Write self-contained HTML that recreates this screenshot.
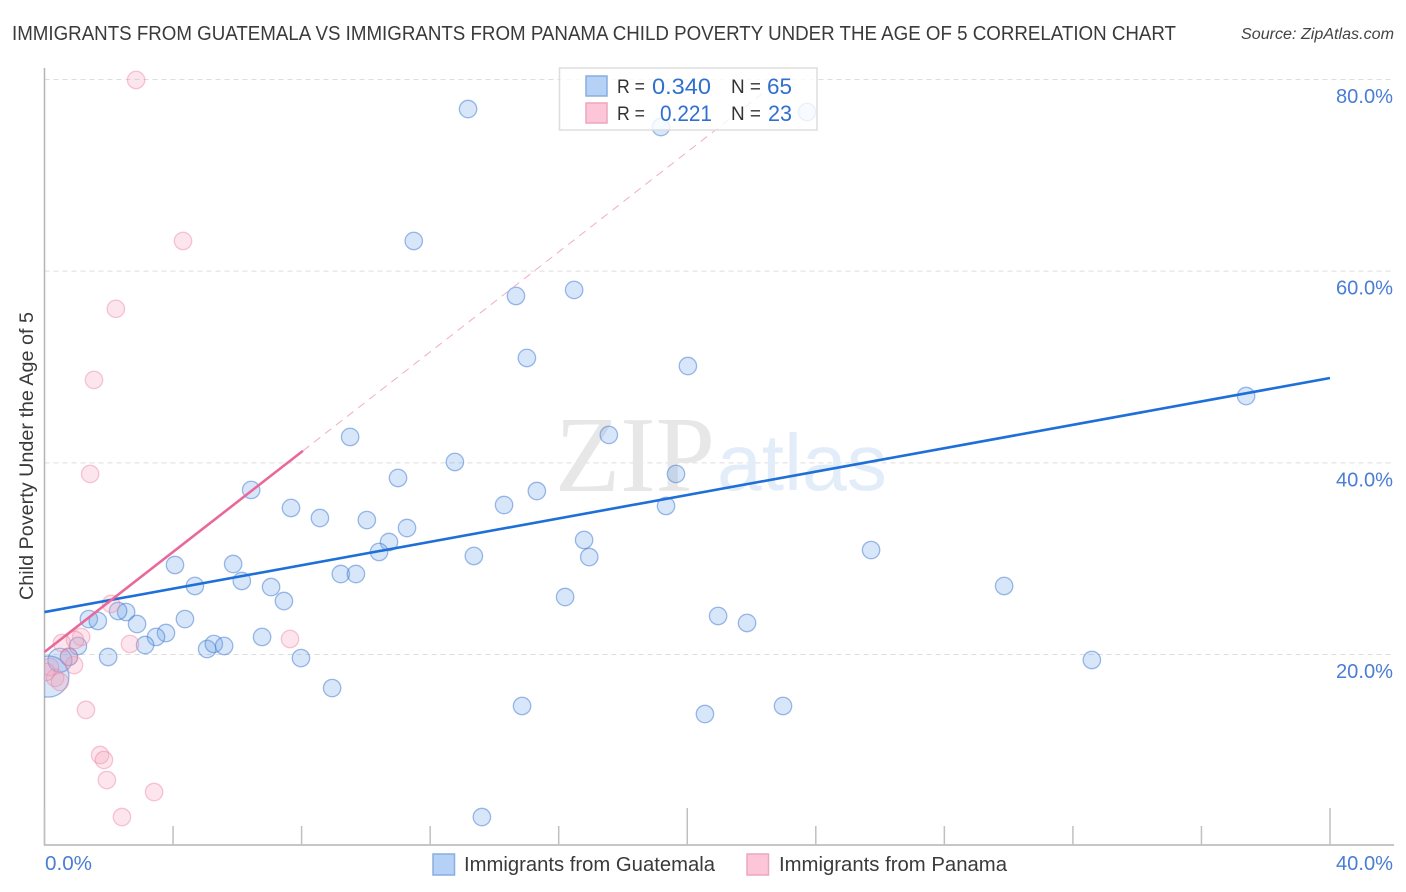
<!DOCTYPE html>
<html lang="en">
<head>
<meta charset="utf-8">
<title>Immigrants from Guatemala vs Immigrants from Panama Child Poverty Under the Age of 5 Correlation Chart</title>
<style>
html,body{margin:0;padding:0;background:#fff;width:1406px;height:892px;overflow:hidden}
svg{display:block}
text{font-family:"Liberation Sans",sans-serif}
</style>
</head>
<body>
<svg id="chart" xmlns="http://www.w3.org/2000/svg" width="1406" height="892" viewBox="0 0 1406 892">
  <rect x="0" y="0" width="1406" height="892" fill="#fff"/>
  <text x="12" y="40" font-size="20" fill="#3a3a3a" textLength="1164" lengthAdjust="spacingAndGlyphs">IMMIGRANTS FROM GUATEMALA VS IMMIGRANTS FROM PANAMA CHILD POVERTY UNDER THE AGE OF 5 CORRELATION CHART</text>
  <text x="1241" y="39" font-size="15.5" font-style="italic" fill="#444" textLength="153" lengthAdjust="spacingAndGlyphs">Source: ZipAtlas.com</text>
  <g id="grid"></g>
  <text x="555" y="491" font-size="108" fill="#e7e7e7" style="font-family:'Liberation Serif',serif" textLength="160" lengthAdjust="spacingAndGlyphs">ZIP</text>
  <text x="717" y="490" font-size="80" fill="#e3edf9" textLength="170" lengthAdjust="spacingAndGlyphs">atlas</text>
  <g id="axes"></g>
  <g id="points-guatemala"></g>
  <g id="points-panama"></g>
  <g id="trends"></g>
  <text transform="translate(33,456) rotate(-90)" text-anchor="middle" font-size="19" fill="#3a3a3a" textLength="288" lengthAdjust="spacingAndGlyphs">Child Poverty Under the Age of 5</text>
  <g id="tick-labels"></g>

  <g>
    <rect x="559.5" y="68" width="257.5" height="62" fill="#fff" fill-opacity="0.8" stroke="#ddd" stroke-width="1.5"/>
    <rect x="586" y="76" width="21" height="20" fill="#b5d2f6" stroke="#87aee0" stroke-width="1.5"/>
    <rect x="586" y="103" width="21" height="20" fill="#fcc5d8" stroke="#eda6bf" stroke-width="1.5"/>
    <text x="617" y="93" font-size="19" fill="#333" textLength="28" lengthAdjust="spacingAndGlyphs">R =</text>
    <text x="652" y="94" font-size="22" fill="#2f6fce" textLength="59" lengthAdjust="spacingAndGlyphs">0.340</text>
    <text x="731" y="93" font-size="19" fill="#333" textLength="30" lengthAdjust="spacingAndGlyphs">N =</text>
    <text x="767" y="94" font-size="22" fill="#2f6fce" textLength="25" lengthAdjust="spacingAndGlyphs">65</text>
    <text x="617" y="120" font-size="19" fill="#333" textLength="28" lengthAdjust="spacingAndGlyphs">R =</text>
    <text x="660" y="121" font-size="22" fill="#2f6fce" textLength="52" lengthAdjust="spacingAndGlyphs">0.221</text>
    <text x="731" y="120" font-size="19" fill="#333" textLength="30" lengthAdjust="spacingAndGlyphs">N =</text>
    <text x="768" y="121" font-size="22" fill="#2f6fce" textLength="24" lengthAdjust="spacingAndGlyphs">23</text>
  </g>

  <g>
    <rect x="433" y="854" width="21.5" height="21" fill="#b5d2f6" stroke="#87aee0" stroke-width="1.5"/>
    <text x="464" y="871" font-size="20" fill="#3a3a3a" textLength="251" lengthAdjust="spacingAndGlyphs">Immigrants from Guatemala</text>
    <rect x="747" y="854" width="21.5" height="21" fill="#fcc5d8" stroke="#eda6bf" stroke-width="1.5"/>
    <text x="779" y="871" font-size="20" fill="#3a3a3a" textLength="228" lengthAdjust="spacingAndGlyphs">Immigrants from Panama</text>
  </g>
</svg>
<script>
const xTickValues = [0, 4, 8, 12, 16, 20, 24, 28, 32, 36, 40];
const xMajorTicks = [0, 20, 40];
const xEdgeLabels = [0, 40];
const yTickValues = [20, 40, 60, 80];

const guatemalaX = [13.18,19.18,23.73,11.49,14.67,16.48,15.01,20.02,37.39,9.51,17.56,12.77,11.0,19.65,6.43,7.67,14.3,15.32,19.34,8.57,10.03,11.28,10.72,10.41,16.79,16.95,13.36,25.72,4.06,5.87,6.14,4.68,7.05,9.22,9.69,29.86,16.2,7.45,20.96,21.86,4.37,2.54,2.29,1.38,1.66,2.88,3.78,3.47,3.13,5.06,5.27,5.59,6.77,1.04,1.98,7.98,32.59,8.95,14.86,20.55,22.98,13.61,0.76,0.48,0.12];
const guatemalaY = [76.92,75.04,76.61,63.15,57.41,58.04,50.94,50.1,46.97,42.7,42.91,40.09,38.42,38.84,37.17,35.29,35.6,37.06,35.5,34.24,34.03,33.2,31.74,30.7,31.95,30.17,30.28,30.9,29.34,29.44,27.67,27.15,27.04,28.4,28.4,27.15,26.0,25.58,24.02,23.29,23.7,24.43,24.54,23.7,23.5,23.18,22.24,21.83,20.99,20.57,21.1,20.89,21.83,20.89,19.74,19.63,19.43,16.5,14.63,13.79,14.63,3.04,19.75,19.4,17.7];
const guatemalaWeight = [1,1,1,1,1,1,1,1,1,1,1,1,1,1,1,1,1,1,1,1,1,1,1,1,1,1,1,1,1,1,1,1,1,1,1,1,1,1,1,1,1,1,1,1,1,1,1,1,1,1,1,1,1,1,1,1,1,1,1,1,1,1,1,1.9,5.6];

const panamaX = [2.85,4.31,2.22,1.54,1.42,2.07,1.14,0.95,0.54,2.66,7.64,0.92,1.29,1.73,1.85,1.94,3.41,2.41,0.33,0.48,0.17,0.05,0.76];
const panamaY = [79.95,63.15,56.07,48.65,38.84,25.28,21.83,21.51,21.2,21.1,21.62,18.9,14.22,9.51,9.0,6.9,5.65,3.04,17.56,17.14,18.7,18.18,19.75];

const guatemalaTrendX = [0, 40];
const guatemalaTrendY = [24.43, 48.85];
const panamaTrendX = [0, 8.04];
const panamaTrendY = [20.26, 41.25];
const panamaProjectionX = [8.04, 22.9];
const panamaProjectionY = [41.25, 80];

const NS = 'http://www.w3.org/2000/svg';
function xScale(v) { return 44.5 + v / 40 * 1285.5; }
function yScale(v) { return 654.5 - (v - 20) * 9.5835; }
function make(tag, attrs, parent) {
  const el = document.createElementNS(NS, tag);
  for (const k in attrs) el.setAttribute(k, attrs[k]);
  parent.appendChild(el);
  return el;
}
const gridG = document.getElementById('grid');
const axesG = document.getElementById('axes');
const labelG = document.getElementById('tick-labels');
const gPts = document.getElementById('points-guatemala');
const pPts = document.getElementById('points-panama');
const trendG = document.getElementById('trends');

yTickValues.forEach(function (v) {
  const line = make('line', {x1: 44.5, x2: 1394, y1: yScale(v), y2: yScale(v), stroke: '#ddd', 'stroke-width': 1, 'stroke-dasharray': '5 4'}, gridG);
  
  
  const label = make('text', {x: 1393, y: yScale(v) + 23.5, 'text-anchor': 'end', 'font-size': 20.5, fill: '#4a7dd4', textLength: 57, lengthAdjust: 'spacingAndGlyphs'}, labelG);
  label.textContent = v.toFixed(1) + '%';
  
  
});

const yAxisLine = make('line', {x1: 44.5, x2: 44.5, y1: 68, y2: 845.5, stroke: '#b4b4b4', 'stroke-width': 1.5}, axesG);


const xAxisLine = make('line', {x1: 44, x2: 1394, y1: 845, y2: 845, stroke: '#b4b4b4', 'stroke-width': 1.5}, axesG);



xTickValues.forEach(function (v) {
  const top = xMajorTicks.indexOf(v) >= 0 ? 808 : 826;
  const tick = make('line', {x1: xScale(v), x2: xScale(v), y1: top, y2: 845, stroke: '#c0c0c0', 'stroke-width': 1.5}, axesG);
  
  
});

xEdgeLabels.forEach(function (v) {
  const atEnd = v === 40;
  const label = make('text', {x: atEnd ? 1393 : 45, y: 870, 'text-anchor': atEnd ? 'end' : 'start', 'font-size': 20.5, fill: '#4a7dd4', textLength: atEnd ? 57 : 47, lengthAdjust: 'spacingAndGlyphs'}, labelG);
  label.textContent = v.toFixed(1) + '%';
  
  
});

const defs = make('defs', {}, document.getElementById('chart'));
const clip = make('clipPath', {id: 'plot-clip'}, defs);
make('rect', {x: 44.5, y: 60, width: 1350, height: 785}, clip);

guatemalaX.forEach(function (v, i) {
  const r = 8.7 * Math.sqrt(guatemalaWeight[i]);
  const c = make('circle', {cx: xScale(v), cy: yScale(guatemalaY[i]), r: r, fill: 'rgba(115,165,235,0.28)', stroke: 'rgba(60,120,210,0.5)', 'stroke-width': 1.3, 'clip-path': 'url(#plot-clip)'}, gPts);
  
  
});

panamaX.forEach(function (v, i) {
  const c = make('circle', {cx: xScale(v), cy: yScale(panamaY[i]), r: 8.7, fill: 'rgba(245,160,185,0.28)', stroke: 'rgba(235,125,160,0.42)', 'stroke-width': 1.3, 'clip-path': 'url(#plot-clip)'}, pPts);
  
  
});

const proj = make('line', {x1: xScale(panamaProjectionX[0]), y1: yScale(panamaProjectionY[0]), x2: xScale(panamaProjectionX[1]), y2: yScale(panamaProjectionY[1]), stroke: '#f0acc5', 'stroke-width': 1, 'stroke-dasharray': '8 6'}, trendG);


const gTrend = make('line', {x1: xScale(guatemalaTrendX[0]), y1: yScale(guatemalaTrendY[0]), x2: xScale(guatemalaTrendX[1]), y2: yScale(guatemalaTrendY[1]), stroke: '#1f6fd8', 'stroke-width': 2.6}, trendG);


const pTrend = make('line', {x1: xScale(panamaTrendX[0]), y1: yScale(panamaTrendY[0]), x2: xScale(panamaTrendX[1]), y2: yScale(panamaTrendY[1]), stroke: '#e9689a', 'stroke-width': 2.6}, trendG);


</script>
</body>
</html>
